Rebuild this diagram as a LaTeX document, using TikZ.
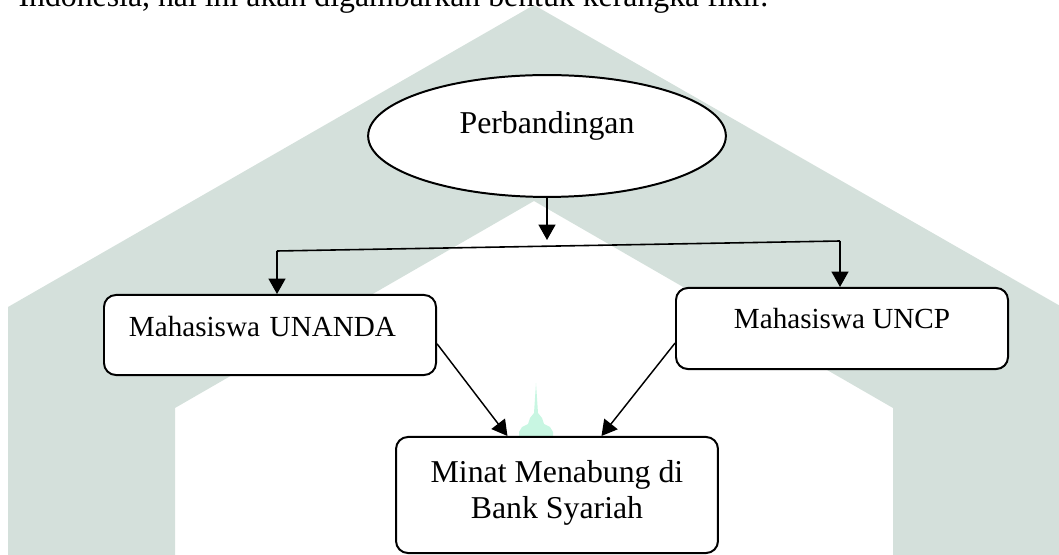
\documentclass[tikz,border=0pt]{standalone}
\usepackage{fontspec}
\setmainfont{Liberation Serif}
\usetikzlibrary{shapes.geometric,arrows.meta}
\definecolor{wmgray}{RGB}{212,224,219}
\definecolor{wmmint}{RGB}{200,246,226}
\tikzset{
    kotak/.style={draw, line width=0.75pt, fill=white, rounded corners=4.5pt, minimum width=125.3pt, inner sep=0pt, font=\fontsize{11}{13}\selectfont},
    panah/.style={-{Triangle[length=5.8pt,width=6.4pt]}, line width=0.55pt},
}

\begin{document}
\begin{tikzpicture}[x=0.3774pt,y=-0.3774pt]
        \useasboundingbox (0,0) rectangle (1059,555);
        \clip (0,0) rectangle (1059,555);
        % watermark
        \fill[wmgray] (8,555) -- (8,307) -- (534,5) -- (1062,307) -- (1062,555) -- (893,555) -- (893,408) -- (534,201) -- (175,408) -- (175,555) -- cycle;
        \fill[wmmint] (536,383) -- (538,413) -- (542,418) -- (544,424) -- (550,427) -- (553,432) -- (553,438) -- (519,438) -- (519,432) -- (522,427) -- (528,424) -- (530,418) -- (534,413) -- cycle;

        \node[anchor=base west, inner sep=0pt, font=\fontsize{12}{13.8}\selectfont] (kalimat) at (18,7) {Indonesia, hal ini akan digambarkan bentuk kerangka fikir.};

        \node[draw, ellipse, line width=0.75pt, fill=white, minimum width=135pt, minimum height=46pt, inner sep=0pt, text depth=10.5pt, font=\fontsize{12}{13.8}\selectfont] (top) at (547,136) {Perbandingan};
        \node[kotak, minimum height=30.2pt, text width=106.5pt, align=left, inner xsep=9.4pt, text depth=6.8pt] (lbox) at (270,335) {Mahasiswa UNANDA};
        \node[kotak, minimum height=30.6pt, text depth=7.9pt] (rbox) at (842,328.5) {Mahasiswa UNCP};
        \node[kotak, minimum width=121.5pt, minimum height=43.8pt, align=center, text depth=4.4pt, font=\fontsize{12}{13.6}\selectfont] (bot) at (557,495) {Minat Menabung di\\Bank Syariah};

        \coordinate (mid) at (547,240);
        \coordinate (lj) at (277,251);
        \coordinate (rj) at (840,241);
        \draw[panah] (top.south) -- (top.south |- mid);
        \draw[line width=0.6pt] (lj) -- (rj);
        \draw[panah] (lj) -- (lj |- lbox.north);
        \draw[panah] (rj) -- (rj |- rbox.north);
        \draw[panah] (lbox.-3) -- (bot.130);
        \draw[panah] (rbox.185) -- (bot.53);
    \end{tikzpicture}
\end{document}
